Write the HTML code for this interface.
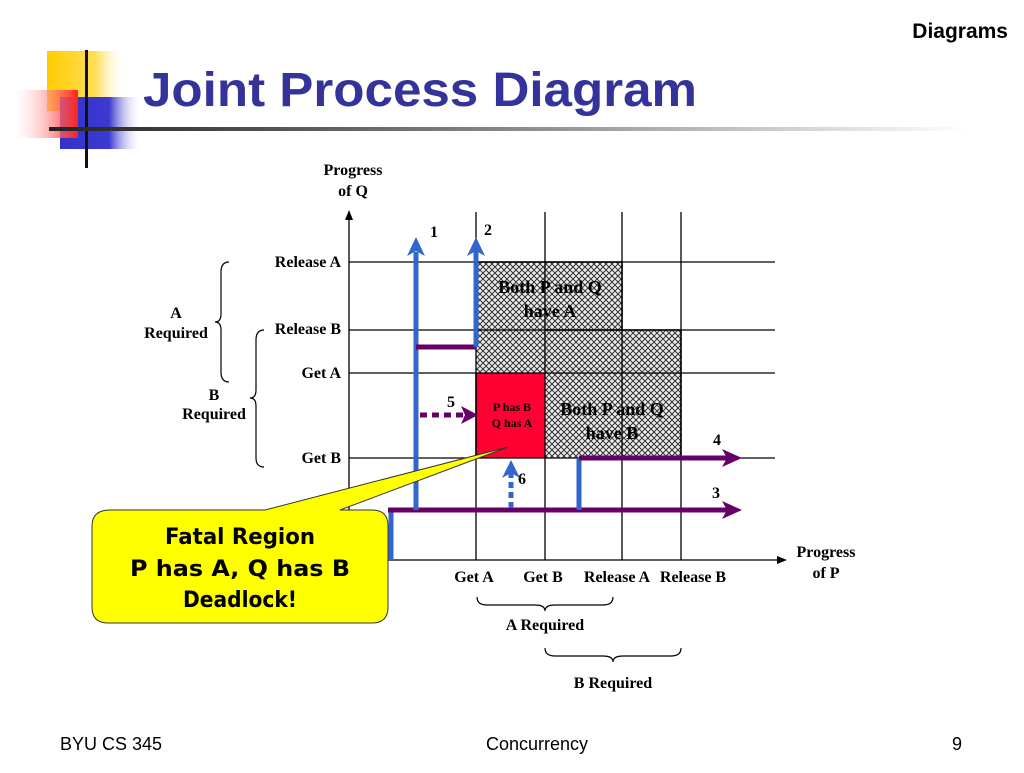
<!DOCTYPE html>
<html><head><meta charset="utf-8"><style>
html,body{margin:0;padding:0;background:#fff;}
body{width:1024px;height:768px;position:relative;overflow:hidden;font-family:"Liberation Sans",sans-serif;}
</style></head><body>
<svg width="1024" height="768" viewBox="0 0 1024 768" xmlns="http://www.w3.org/2000/svg">
<defs>
<linearGradient id="gy" x1="0" x2="1"><stop offset="0" stop-color="#ffcc00"/><stop offset="0.6" stop-color="#ffdd55"/><stop offset="1" stop-color="#fff" stop-opacity="0"/></linearGradient>
<linearGradient id="gr" x1="1" x2="0"><stop offset="0" stop-color="#ff2020"/><stop offset="1" stop-color="#fff" stop-opacity="0.2"/></linearGradient>
<linearGradient id="gb" x1="0" x2="1"><stop offset="0" stop-color="#3333cc"/><stop offset="0.6" stop-color="#3a3ad0"/><stop offset="1" stop-color="#fff" stop-opacity="0"/></linearGradient>
<linearGradient id="gl" x1="0" x2="1"><stop offset="0" stop-color="#222"/><stop offset="0.5" stop-color="#888"/><stop offset="1" stop-color="#fff"/></linearGradient>
<pattern id="hatch" width="6" height="6" patternUnits="userSpaceOnUse"><rect width="6" height="6" fill="#eee"/><path d="M0 0L3 3L6 0M0 6L3 3L6 6" stroke="#333" stroke-width="1" fill="none"/></pattern>
</defs>
<!-- logo -->
<rect x="47" y="51" width="80" height="60" fill="url(#gy)"/>
<rect x="60" y="97" width="82" height="52" fill="url(#gb)"/>
<rect x="14" y="90" width="64" height="48" fill="url(#gr)"/>
<rect x="85" y="50" width="3" height="118" fill="#111"/>
<rect x="49" y="127" width="920" height="4" fill="url(#gl)"/>
<text x="143" y="106" font-size="48" font-weight="bold" fill="#333399" textLength="554" lengthAdjust="spacingAndGlyphs">Joint Process Diagram</text>
<text x="1008" y="38" font-size="21" font-weight="bold" text-anchor="end">Diagrams</text>

<!-- regions -->
<path d="M476 262H622V330H681V458H545V373H476Z" fill="url(#hatch)"/>
<rect x="476" y="373" width="69" height="85" fill="#ff0033"/>
<path d="M476 262H622V330M545 330H681V458M476 373V458" fill="none" stroke="#000" stroke-width="1.5"/>

<!-- grid -->
<g stroke="#000" stroke-width="1.3">
<line x1="476" y1="212" x2="476" y2="560"/><line x1="545" y1="212" x2="545" y2="560"/>
<line x1="622" y1="212" x2="622" y2="560"/><line x1="681" y1="212" x2="681" y2="560"/>
<line x1="349" y1="262" x2="775" y2="262"/><line x1="349" y1="330" x2="775" y2="330"/>
<line x1="349" y1="373" x2="775" y2="373"/><line x1="349" y1="458" x2="775" y2="458"/>
<line x1="349" y1="560" x2="780" y2="560"/><line x1="349" y1="560" x2="349" y2="215"/>
</g>
<path d="M349 210L345 220L353 220Z" fill="#000"/>
<path d="M787 560L777 556L777 564Z" fill="#000"/>

<g font-family="Liberation Serif,serif" font-weight="bold" font-size="16" fill="#000">
<text x="353" y="175" text-anchor="middle">Progress</text>
<text x="353" y="196" text-anchor="middle">of Q</text>
<text x="341" y="267" text-anchor="end">Release A</text>
<text x="341" y="334" text-anchor="end">Release B</text>
<text x="341" y="378" text-anchor="end">Get A</text>
<text x="341" y="463" text-anchor="end">Get B</text>
<text x="176" y="318" text-anchor="middle">A</text>
<text x="176" y="338" text-anchor="middle">Required</text>
<text x="214" y="400" text-anchor="middle">B</text>
<text x="214" y="419" text-anchor="middle">Required</text>
<text x="474" y="582" text-anchor="middle">Get A</text>
<text x="543" y="582" text-anchor="middle">Get B</text>
<text x="617" y="582" text-anchor="middle">Release A</text>
<text x="693" y="582" text-anchor="middle">Release B</text>
<text x="826" y="557" text-anchor="middle">Progress</text>
<text x="826" y="578" text-anchor="middle">of P</text>
<text x="545" y="630" text-anchor="middle">A Required</text>
<text x="613" y="688" text-anchor="middle">B Required</text>
<text x="434" y="237" text-anchor="middle">1</text>
<text x="488" y="235" text-anchor="middle">2</text>
<text x="716" y="498" text-anchor="middle">3</text>
<text x="717" y="445" text-anchor="middle">4</text>
<text x="451" y="407" text-anchor="middle">5</text>
<text x="522" y="484" text-anchor="middle">6</text>
<text x="550" y="293" text-anchor="middle" font-size="18">Both P and Q</text>
<text x="550" y="317" text-anchor="middle" font-size="18">have A</text>
<text x="612" y="415" text-anchor="middle" font-size="18">Both P and Q</text>
<text x="612" y="439" text-anchor="middle" font-size="18">have B</text>
<text x="512" y="411" text-anchor="middle" font-size="12">P has B</text>
<text x="512" y="427" text-anchor="middle" font-size="12">Q has A</text>
</g>

<!-- braces -->
<g fill="none" stroke="#000" stroke-width="1.2">
<path d="M229 262Q221 262 221 272V314Q221 322 215 322Q221 322 221 330V372Q221 382 229 382"/>
<path d="M264 330Q256 330 256 340V390Q256 398 250 398Q256 398 256 406V458Q256 467 264 467"/>
<path d="M477 597Q477 605 487 605H535Q545 605 545 611Q545 605 555 605H603Q613 605 613 597"/>
<path d="M545 648Q545 656 555 656H603Q613 656 613 662Q613 656 623 656H671Q681 656 681 648"/>
</g>

<!-- paths -->
<g stroke-width="5" fill="none">
<line x1="391" y1="510" x2="391" y2="560" stroke="#3366cc"/>
<line x1="388" y1="510" x2="728" y2="510" stroke="#660066"/>
<line x1="416" y1="510" x2="416" y2="252" stroke="#3366cc"/>
<line x1="416" y1="347" x2="476" y2="347" stroke="#660066"/>
<line x1="476" y1="347" x2="476" y2="252" stroke="#3366cc"/>
<line x1="420" y1="415" x2="466" y2="415" stroke="#660066" stroke-dasharray="7,5"/>
<line x1="511" y1="508" x2="511" y2="470" stroke="#3366cc" stroke-dasharray="6,4"/>
<line x1="579" y1="510" x2="579" y2="458" stroke="#3366cc"/>
<line x1="579" y1="458" x2="728" y2="458" stroke="#660066"/>
</g>
<path d="M416 237L407 256L416 251L425 256Z" fill="#3366cc"/>
<path d="M476 237L467 256L476 251L485 256Z" fill="#3366cc"/>
<path d="M511 460L502 478L511 473L520 478Z" fill="#3366cc"/>
<path d="M742 510L722 501L727 510L722 519Z" fill="#660066"/>
<path d="M742 458L722 449L727 458L722 467Z" fill="#660066"/>
<path d="M478 415L461 406L465 415L461 424Z" fill="#660066"/>

<!-- callout -->
<path d="M110 510H265L508 447L340 510H372Q388 510 388 526V607Q388 623 372 623H108Q92 623 92 607V526Q92 510 110 510Z" fill="#ffff00" stroke="#333" stroke-width="1"/>
<g font-family="DejaVu Sans,sans-serif" font-size="22" font-weight="bold" text-anchor="middle" fill="#000">
<text x="240" y="544" textLength="150" lengthAdjust="spacingAndGlyphs">Fatal Region</text>
<text x="240" y="576" textLength="220" lengthAdjust="spacingAndGlyphs">P has A, Q has B</text>
<text x="240" y="607" textLength="114" lengthAdjust="spacingAndGlyphs">Deadlock!</text>
</g>

<text x="60" y="750" font-size="18">BYU CS 345</text>
<text x="537" y="750" font-size="18" text-anchor="middle">Concurrency</text>
<text x="962" y="750" font-size="18" text-anchor="end">9</text>
</svg>
</body></html>
